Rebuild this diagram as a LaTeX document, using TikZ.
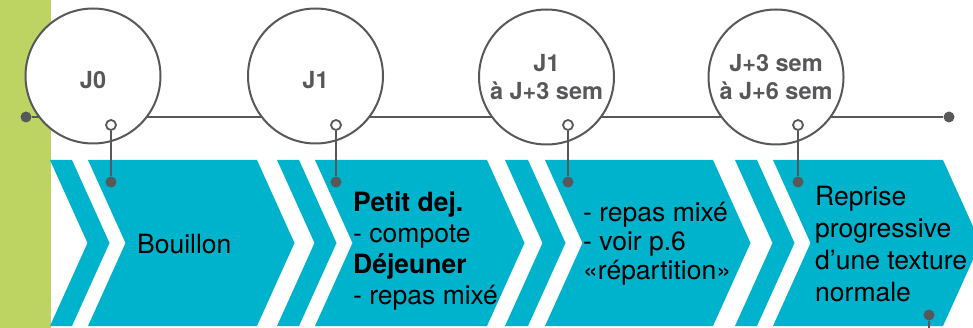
\documentclass[tikz,border=0pt]{standalone}
\usepackage{fontspec}
\setmainfont{TeX Gyre Heros}
\usepackage{tikz}
\usetikzlibrary{positioning}

\definecolor{bandBlue}{HTML}{00B3CD}
\definecolor{barGreen}{HTML}{BDD463}
\definecolor{lineGray}{HTML}{58585B}

\begin{document}
\begin{tikzpicture}[x=1pt, y=-1pt,
	day/.style={circle, draw=lineGray, line width=2pt, fill=white, minimum size=135pt, inner sep=0pt},
	daytext/.style={align=center, text=lineGray, inner sep=0pt, font=\fontsize{23.5}{28}\selectfont\bfseries},
	dot/.style={circle, fill=lineGray, minimum size=11pt, inner sep=0pt},
	ring/.style={circle, draw=lineGray, line width=1.8pt, fill=white, minimum size=10pt, inner sep=0pt},
	body/.style={align=left, anchor=west, inner sep=0pt, font=\fontsize{26.5}{31}\selectfont},
	tline/.style={draw=lineGray, line width=1.8pt}]

	\useasboundingbox (0,0) rectangle (973,328);
	\clip (0,0) rectangle (973,328);

	% side bar
	\fill[barGreen] (0,0) rectangle (51,328);

	% chevrons
	\fill[bandBlue] (50,160) -- (72,160) -- (109.5,243) -- (72,326) -- (50,326) -- (87.5,243) -- cycle;
	\fill[bandBlue] (88,160) -- (257,160) -- (294.5,243) -- (257,326) -- (88,326) -- (125.5,243) -- cycle;
	\fill[bandBlue] (277,160) -- (299,160) -- (336.5,243) -- (299,326) -- (277,326) -- (314.5,243) -- cycle;
	\fill[bandBlue] (315,160) -- (487,160) -- (524.5,243) -- (487,326) -- (315,326) -- (352.5,243) -- cycle;
	\fill[bandBlue] (505,160) -- (528,160) -- (565.5,243) -- (528,326) -- (505,326) -- (542.5,243) -- cycle;
	\fill[bandBlue] (545,160) -- (713,160) -- (750.5,243) -- (713,326) -- (545,326) -- (582.5,243) -- cycle;
	\fill[bandBlue] (735,160) -- (757,160) -- (794.5,243) -- (757,326) -- (735,326) -- (772.5,243) -- cycle;
	\fill[bandBlue] (773,160) -- (943,160) -- (980.5,243) -- (943,326) -- (773,326) -- (810.5,243) -- cycle;

	% time line
	\node[dot] (L) at (26,117) {};
	\node[dot] (R) at (949,117) {};
	\draw[tline] (L) -- (R);

	\node[day] (C0) at (93,76) {};
	\node[day] (C1) at (315.5,76) {};
	\node[day] (C2) at (546.5,77) {};
	\node[day] (C3) at (776,77) {};

	\node[daytext] (T0) at (93,80) {J0};
	\node[daytext] (T1) at (315.5,80) {J1};
	\node[daytext] (T2) at (546.5,77) {J1\\à J+3 sem};
	\node[daytext] (T3) at (776,77) {J+3 sem\\à J+6 sem};

	% pins
	\node[dot] (F0) at (111,182) {};
	\node[dot] (F1) at (336,182) {};
	\node[dot] (F2) at (568,182) {};
	\node[dot] (F3) at (798,182) {};
	\node[ring] (O0) at (111,125) {};
	\node[ring] (O1) at (336,125) {};
	\node[ring] (O2) at (568,125) {};
	\node[ring] (O3) at (798,125) {};
	\draw[tline] (O0) -- (F0);
	\draw[tline] (O1) -- (F1);
	\draw[tline] (O2) -- (F2);
	\draw[tline] (O3) -- (F3);

	\node[dot] (F4) at (929,315) {};
	\coordinate (E4) at (929,332);
	\draw[tline] (F4) -- (E4);

	% texts
	\node[body] (B0) at (137,243.6) {Bouillon};
	\node[body] (B1) at (353,251) {\textbf{Petit dej.}\\- compote\\\textbf{Déjeuner}\\- repas mixé};
	\node[body, font=\fontsize{26.5}{29}\selectfont] (B2) at (583,244) {- repas mixé\\- voir p.6\\«répartition»};
	\node[body, font=\fontsize{26.5}{32}\selectfont] (B3) at (815,244) {Reprise\\progressive\\d’une texture\\normale};

\end{tikzpicture}
\end{document}
